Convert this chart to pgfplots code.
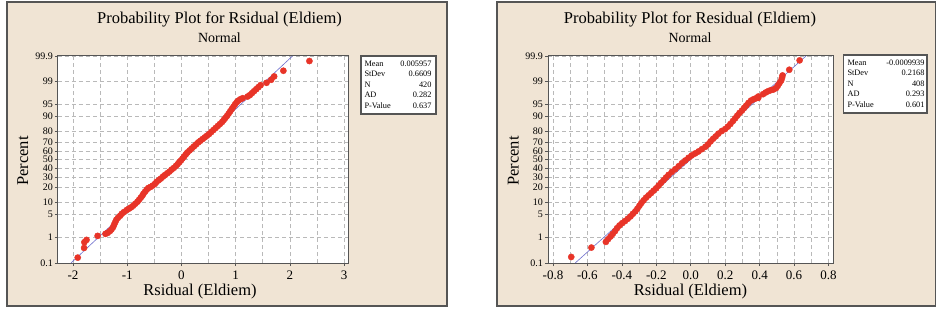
\documentclass[border=0pt]{standalone}
\usepackage{fontspec}
\setmainfont{Liberation Serif}
\usepackage{pgfplots}
\pgfplotsset{compat=1.18}
\definecolor{panelbg}{RGB}{240,228,212}
\definecolor{frame}{RGB}{85,85,85}
\definecolor{ptred}{RGB}{232,52,40}
\definecolor{fitline}{RGB}{110,110,205}
\definecolor{gridc}{RGB}{185,185,185}
\pgfplotsset{pplot/.style={
  scale only axis, height=207pt, anchor=south west,
  ymin=-3.0902, ymax=3.0902,
  ytick={-3.0902,-2.3263,-1.6449,-1.2816,-0.8416,-0.5244,-0.2533,0,0.2533,0.5244,0.8416,1.2816,1.6449,2.3263,3.0902},
  yticklabels={0.1,1,5,10,20,30,40,50,60,70,80,90,95,99,99.9},
  axis line style={draw=frame, line width=1pt},
  tick style={draw=frame, line width=0.6pt},
  major tick length=3pt, minor tick length=0pt,
  tick align=outside, tick pos=left,
  grid=both,
  major grid style={draw=gridc, dash pattern=on 4pt off 3pt, line width=0.6pt},
  minor grid style={draw=gridc, dash pattern=on 4pt off 3pt, line width=0.6pt},
  minor x tick num=1,
  yticklabel style={font=\fontsize{10}{10}\selectfont, inner sep=0.5pt, xshift=-1.5pt},
  xticklabel style={font=\fontsize{13}{14}\selectfont, inner sep=2pt, yshift=-3pt},
  axis background/.style={fill=white},
}}
\begin{document}
\begin{tikzpicture}
\path[use as bounding box] (0,0) rectangle (937pt,308pt);
\fill[white] (0,0) rectangle (937pt,308pt);
\draw[fill=panelbg, draw=frame, line width=1.5pt] (7pt,2pt) rectangle (447pt,306pt);
\draw[fill=panelbg, draw=frame, line width=1.5pt] (497pt,2pt) rectangle (935.5pt,306pt);

\begin{axis}[pplot, at={(58pt,45pt)}, width=291pt,
  xmin=-2.276, xmax=3.09, xtick={-2,-1,0,1,2,3}, xticklabels={-2,-1,0,1,2,3}]
\addplot[fitline, line width=0.6pt] coordinates {(-2.0364,-3.0902) (2.0483,3.0902)};
\addplot[only marks, mark=*, mark size=3.1pt, mark options={draw=ptred, fill=ptred}] coordinates {
(-1.912,-2.93) (-1.795,-2.64) (-1.79,-2.47) (-1.75,-2.40) (-1.545,-2.28) (-1.40,-2.22)
(-1.36,-2.19) (-1.32,-2.14) (-1.29,-2.09) (-1.26,-2.02) (-1.24,-1.94) (-1.22,-1.87)
(-1.20,-1.80) (-1.17,-1.74) (-1.13,-1.68) (-1.10,-1.62) (-1.06,-1.57) (-1.01,-1.51)
(-0.97,-1.47) (-0.93,-1.43) (-0.89,-1.38) (-0.85,-1.32) (-0.81,-1.26) (-0.78,-1.20)
(-0.75,-1.14) (-0.72,-1.08) (-0.70,-1.02) (-0.67,-0.96) (-0.64,-0.90) (-0.61,-0.85)
(-0.57,-0.82) (-0.53,-0.78) (-0.49,-0.73) (-0.46,-0.67) (-0.42,-0.62) (-0.38,-0.57)
(-0.34,-0.51) (-0.30,-0.46) (-0.26,-0.41) (-0.22,-0.36) (-0.18,-0.30) (-0.14,-0.25)
(-0.10,-0.19) (-0.07,-0.14) (-0.04,-0.08) (-0.01,-0.03) (0.02,0.03) (0.05,0.09)
(0.08,0.15) (0.11,0.21) (0.15,0.27) (0.19,0.33) (0.23,0.39) (0.27,0.45) (0.31,0.51)
(0.35,0.56) (0.39,0.61) (0.43,0.66) (0.47,0.71) (0.51,0.76) (0.55,0.82) (0.59,0.88)
(0.63,0.94) (0.67,1.00) (0.71,1.06) (0.75,1.12) (0.78,1.18) (0.81,1.24) (0.84,1.30)
(0.87,1.37) (0.90,1.44) (0.93,1.51) (0.96,1.58) (0.99,1.65) (1.02,1.71) (1.05,1.76)
(1.09,1.80) (1.13,1.83) (1.22,1.88) (1.26,1.92) (1.30,1.98) (1.34,2.04) (1.38,2.10)
(1.42,2.16) (1.46,2.22) (1.57,2.29) (1.655,2.38) (1.71,2.48) (1.88,2.65) (2.36,2.94)
};
\end{axis}

\begin{axis}[pplot, at={(548pt,45pt)}, width=285pt,
  xmin=-0.829, xmax=0.826, xtick={-0.8,-0.6,-0.4,-0.2,0,0.2,0.4,0.6,0.8},
  xticklabels={-0.8,-0.6,-0.4,-0.2,0.0,0.2,0.4,0.6,0.8}]
\addplot[fitline, line width=0.6pt] coordinates {(-0.6710,-3.0902) (0.6690,3.0902)};
\addplot[only marks, mark=*, mark size=3.1pt, mark options={draw=ptred, fill=ptred}] coordinates {
(-0.694,-2.91) (-0.577,-2.63) (-0.493,-2.46) (-0.480,-2.38) (-0.466,-2.30) (-0.453,-2.22)
(-0.440,-2.14) (-0.428,-2.05) (-0.414,-1.97) (-0.398,-1.90) (-0.382,-1.84) (-0.366,-1.77)
(-0.350,-1.70) (-0.336,-1.62) (-0.322,-1.55) (-0.310,-1.47) (-0.298,-1.38) (-0.287,-1.30)
(-0.274,-1.22) (-0.260,-1.14) (-0.245,-1.07) (-0.230,-1.00) (-0.216,-0.93) (-0.201,-0.86)
(-0.187,-0.78) (-0.173,-0.70) (-0.158,-0.62) (-0.144,-0.54) (-0.129,-0.46) (-0.110,-0.37)
(-0.090,-0.29) (-0.070,-0.20) (-0.051,-0.11) (-0.032,-0.03) (-0.013,0.05) (0.005,0.12)
(0.025,0.18) (0.045,0.24) (0.065,0.31) (0.085,0.38) (0.100,0.45) (0.115,0.54) (0.130,0.62)
(0.145,0.69) (0.160,0.77) (0.180,0.85) (0.200,0.91) (0.215,0.98) (0.230,1.06) (0.245,1.15)
(0.258,1.23) (0.270,1.31) (0.283,1.39) (0.297,1.46) (0.310,1.54) (0.322,1.61) (0.335,1.69)
(0.350,1.76) (0.365,1.80) (0.380,1.83) (0.392,1.88) (0.392,1.84) (0.420,1.95) (0.435,2.00)
(0.450,2.04) (0.465,2.07) (0.480,2.09) (0.495,2.13) (0.505,2.20) (0.515,2.28) (0.525,2.36)
(0.530,2.44) (0.533,2.51) (0.572,2.68) (0.632,2.96)
};
\end{axis}

% titles and labels
\node[font=\fontsize{16.5}{18}\selectfont] at (219.5pt,289pt) {Probability Plot for Rsidual (Eldiem)};
\node[font=\fontsize{14}{16}\selectfont] at (219.5pt,270pt) {Normal};
\node[font=\fontsize{16.5}{18}\selectfont] at (200pt,16pt) {Rsidual (Eldiem)};
\node[font=\fontsize{16.5}{18}\selectfont, rotate=90] at (22.7pt,147pt) {Percent};
\node[font=\fontsize{16.5}{18}\selectfont] at (690pt,289pt) {Probability Plot for Residual (Eldiem)};
\node[font=\fontsize{14}{16}\selectfont] at (690pt,270pt) {Normal};
\node[font=\fontsize{16.5}{18}\selectfont] at (690.5pt,16pt) {Rsidual (Eldiem)};
\node[font=\fontsize{16.5}{18}\selectfont, rotate=90] at (513.3pt,147pt) {Percent};

% stats boxes
\draw[fill=white, draw=frame, line width=1.2pt] (361pt,194pt) rectangle (436pt,252pt);
\node[font=\fontsize{8.3}{10.5}\selectfont, inner sep=0pt] at (398pt,223pt) {%
\begin{tabular*}{67pt}{@{}l@{\extracolsep{\fill}}r@{}}
Mean & 0.005957\\ StDev & 0.6609\\ N & 420\\ AD & 0.282\\ P-Value & 0.637
\end{tabular*}};
\draw[fill=white, draw=frame, line width=1.2pt] (843.5pt,195pt) rectangle (927pt,253pt);
\node[font=\fontsize{8.3}{10.5}\selectfont, inner sep=0pt] at (886pt,224pt) {%
\begin{tabular*}{77pt}{@{}l@{\extracolsep{\fill}}r@{}}
Mean & -0.0009939\\ StDev & 0.2168\\ N & 408\\ AD & 0.293\\ P-Value & 0.601
\end{tabular*}};
\end{tikzpicture}
\end{document}
